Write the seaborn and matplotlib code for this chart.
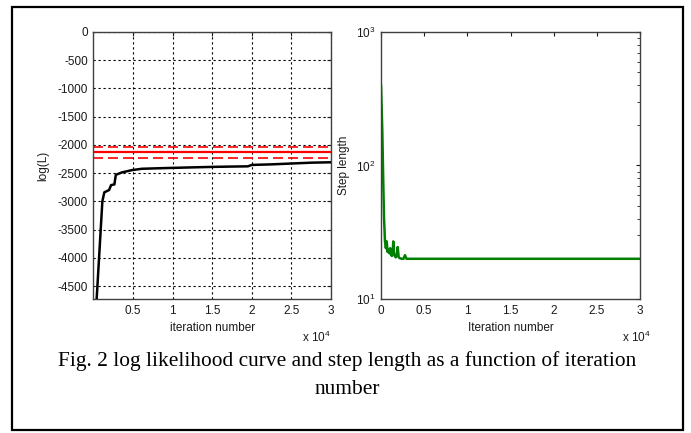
import numpy as np
import pandas as pd
import matplotlib
matplotlib.use("Agg")
import matplotlib.pyplot as plt
import seaborn as sns
from matplotlib.patches import Rectangle
from matplotlib.ticker import LogLocator, FixedLocator, NullFormatter

# log likelihood curve (left panel)
ll_iter = [400, 1120, 1370, 1970, 2220, 2640, 2820, 3580, 4850, 6120, 9000,
           12000, 15000, 17000, 19500, 20000, 22500, 25000, 27500, 30000]
ll_vals = [-4730, -3000, -2840, -2800, -2713, -2700, -2530, -2488, -2447, -2423,
           -2411, -2400, -2390, -2385, -2380, -2355, -2345, -2330, -2315, -2308]
ref_line = -2130
ref_band = [-2030, -2230]

# step length (right panel)
step_iter = [0, 150, 270, 350, 460, 560, 660, 760, 860, 960, 1060, 1160, 1260,
             1340, 1420, 1500, 1600, 1700, 1800, 1930, 2050, 2200, 2400, 2600,
             2780, 2950, 30000]
step_vals = [400, 180, 70, 40, 27, 24, 27, 22.5, 23.5, 22, 24, 21.5, 21, 22, 27,
             22, 21, 20.5, 21, 24.5, 20.5, 20.2, 20, 20, 21.3, 20, 20]

left_xticks = [5000, 10000, 15000, 20000, 25000, 30000]
right_xticks = [0, 5000, 10000, 15000, 20000, 25000, 30000]
xtick_labels_left = ["0.5", "1", "1.5", "2", "2.5", "3"]
xtick_labels_right = ["0", "0.5", "1", "1.5", "2", "2.5", "3"]
yticks_left = [0, -500, -1000, -1500, -2000, -2500, -3000, -3500, -4000, -4500]

sns.set_style("white")
plt.rcParams["font.family"] = ["Liberation Sans", "DejaVu Sans"]
plt.rcParams["mathtext.fontset"] = "custom"
plt.rcParams["mathtext.rm"] = "Liberation Sans"
plt.rcParams["mathtext.it"] = "Liberation Sans"

tick_col = "#1a1a1a"
fs = 8.5

fig = plt.figure(figsize=(6.91, 4.33), dpi=100)
fig.patch.set_facecolor("white")

# outer frame
fig.patches.append(Rectangle((0.0174, 0.0069), 0.971, 0.977, transform=fig.transFigure,
                             fill=False, edgecolor="black", linewidth=1.6))

ax1 = fig.add_axes([0.1353, 0.3095, 0.3437, 0.6166])
ax2 = fig.add_axes([0.5514, 0.3095, 0.3748, 0.6166])

# left panel
df_ll = pd.DataFrame({"iter": ll_iter, "ll": ll_vals})
ax1.axhline(ref_line, color="red", lw=1.6, zorder=2)
for v in ref_band:
    ax1.axhline(v, color="red", lw=1.2, ls=(0, (6, 3)), zorder=2)
sns.lineplot(data=df_ll, x="iter", y="ll", ax=ax1, color="black", lw=1.8, zorder=3)
ax1.set_xlim(0, 30000)
ax1.set_ylim(-4730, 0)
ax1.set_xticks(left_xticks)
ax1.set_xticklabels(xtick_labels_left)
ax1.set_yticks(yticks_left)
ax1.set_yticklabels([str(v) for v in yticks_left])
ax1.grid(True, color="black", ls=(0, (2, 2.5)), lw=0.8)
ax1.set_xlabel("iteration number", fontsize=fs, color=tick_col, labelpad=4)
ax1.set_ylabel("log(L)", fontsize=fs, color=tick_col, labelpad=6)
ax1.text(1.0, -0.115, r"x 10$^{4}$", transform=ax1.transAxes, ha="right", va="top",
         fontsize=fs, color=tick_col)

# right panel
df_st = pd.DataFrame({"iter": step_iter, "step": step_vals})
sns.lineplot(data=df_st, x="iter", y="step", ax=ax2, color=(0, 0.5, 0), lw=1.8)
ax2.set_yscale("log")
ax2.set_xlim(0, 30000)
ax2.set_ylim(10, 1000)
ax2.set_xticks(right_xticks)
ax2.set_xticklabels(xtick_labels_right)
ax2.yaxis.set_major_locator(FixedLocator([10, 100, 1000]))
ax2.set_yticklabels([r"10$^{1}$", r"10$^{2}$", r"10$^{3}$"])
ax2.yaxis.set_minor_locator(LogLocator(base=10, subs=np.arange(2, 10)))
ax2.yaxis.set_minor_formatter(NullFormatter())
ax2.set_xlabel("Iteration number", fontsize=fs, color=tick_col, labelpad=4)
ax2.set_ylabel("Step length", fontsize=fs, color=tick_col, labelpad=4)
ax2.text(1.04, -0.115, r"x 10$^{4}$", transform=ax2.transAxes, ha="right", va="top",
         fontsize=fs, color=tick_col)

for ax in (ax1, ax2):
    for s in ax.spines.values():
        s.set_color("#404040")
        s.set_linewidth(1.0)
    ax.tick_params(axis="both", which="both", direction="in", top=True, right=True,
                   labelsize=fs, colors=tick_col, length=3, pad=4)
    ax.tick_params(axis="both", which="minor", length=2)

fig.text(0.503, 0.166, "Fig. 2 log likelihood curve and step length as a function of iteration",
         ha="center", va="center", fontsize=15.4, color="black", family=["Liberation Serif"])
fig.text(0.503, 0.100, "number", ha="center", va="center", fontsize=15.4, color="black",
         family=["Liberation Serif"])

fig.savefig("out.png", dpi=100)
